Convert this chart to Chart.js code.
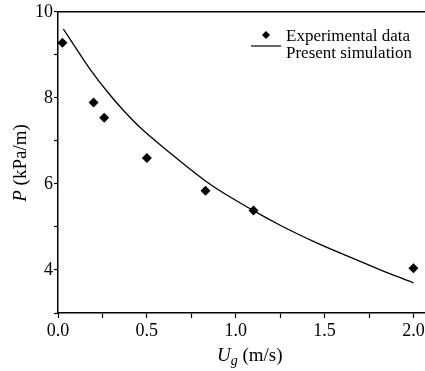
<!DOCTYPE html>
<html>
<head>
<meta charset="utf-8">
<script src="https://cdn.jsdelivr.net/npm/chart.js@4"></script>
<style>
  html, body { margin: 0; padding: 0; background: #fff; overflow: hidden; }
  #wrap { width: 425px; height: 371px; overflow: hidden; }
</style>
</head>
<body>
<div id="wrap"><canvas id="chart" width="430" height="371"></canvas></div>
<script>
// experimental points (Ug in m/s, P in kPa/m)
const expUg = [0.025, 0.2, 0.26, 0.5, 0.83, 1.1, 2.0];
const expP = [9.28, 7.89, 7.54, 6.6, 5.84, 5.38, 4.04];

// simulation curve
const simUg = [0.03, 0.11, 0.185, 0.28, 0.37, 0.47, 0.61, 0.86, 1.1, 1.25, 1.44, 1.63, 1.81, 2.0];
const simP = [9.6, 9.1, 8.64, 8.13, 7.7, 7.28, 6.79, 5.98, 5.38, 5.04, 4.66, 4.32, 4.01, 3.7];

const xTicks = [0, 0.25, 0.5, 0.75, 1.0, 1.25, 1.5, 1.75, 2.0];
const xLabels = [0, 0.5, 1.0, 1.5, 2.0];
const yTicks = [3, 4, 5, 6, 7, 8, 9, 10];
const yLabels = [4, 6, 8, 10];

const serif = "'Liberation Serif', 'Times New Roman', serif";

const toXY = (xs, ys) => xs.map((x, i) => ({ x: x, y: ys[i] }));

// top frame line + legend + axis titles (need italics / subscript)
const extras = {
  id: 'extras',
  afterDraw(chart) {
    const ctx = chart.ctx;
    const a = chart.chartArea;
    ctx.save();
    ctx.strokeStyle = '#000';
    ctx.lineWidth = 1.5;
    ctx.beginPath();
    ctx.moveTo(a.left, a.top);
    ctx.lineTo(a.right + 10, a.top);
    ctx.stroke();

    // legend
    ctx.fillStyle = '#000';
    ctx.beginPath();
    ctx.moveTo(266, 31);
    ctx.lineTo(270, 35);
    ctx.lineTo(266, 39);
    ctx.lineTo(262, 35);
    ctx.closePath();
    ctx.fill();
    ctx.lineWidth = 1.2;
    ctx.beginPath();
    ctx.moveTo(251, 46);
    ctx.lineTo(281, 46);
    ctx.stroke();
    ctx.font = '17px ' + serif;
    ctx.textBaseline = 'alphabetic';
    ctx.textAlign = 'left';
    ctx.fillText('Experimental data', 286, 41);
    ctx.fillText('Present simulation', 286, 58);

    // x title: Ug (m/s)
    ctx.font = 'italic 19px ' + serif;
    let x = 217;
    const base = 361;
    ctx.fillText('U', x, base);
    x += ctx.measureText('U').width;
    ctx.font = 'italic 14px ' + serif;
    ctx.fillText('g', x, base + 4);
    x += ctx.measureText('g').width;
    ctx.font = '19px ' + serif;
    ctx.fillText(' (m/s)', x, base);

    // y title: P (kPa/m)
    ctx.translate(26, 163);
    ctx.rotate(-Math.PI / 2);
    ctx.font = 'italic 19px ' + serif;
    const wP = ctx.measureText('P').width;
    ctx.font = '19px ' + serif;
    const wR = ctx.measureText(' (kPa/m)').width;
    let sx = -(wP + wR) / 2;
    ctx.font = 'italic 19px ' + serif;
    ctx.fillText('P', sx, 0);
    ctx.font = '19px ' + serif;
    ctx.fillText(' (kPa/m)', sx + wP, 0);
    ctx.restore();
  }
};

new Chart(document.getElementById('chart'), {
  type: 'scatter',
  data: {
    datasets: [
      {
        label: 'Experimental data',
        data: toXY(expUg, expP),
        pointStyle: 'rectRot',
        pointRadius: 5,
        backgroundColor: '#000',
        borderColor: '#000',
        borderWidth: 0,
        showLine: false
      },
      {
        label: 'Present simulation',
        data: toXY(simUg, simP),
        showLine: true,
        pointRadius: 0,
        borderColor: '#000',
        borderWidth: 1.3,
        cubicInterpolationMode: 'monotone',
        fill: false
      }
    ]
  },
  options: {
    responsive: false,
    animation: false,
    events: [],
    layout: { padding: { left: 0, top: 10, right: 0, bottom: 0 } },
    plugins: {
      legend: { display: false },
      tooltip: { enabled: false },
      title: { display: false }
    },
    scales: {
      x: {
        type: 'linear',
        min: 0,
        max: 2.065,
        afterFit: s => { s.height = 58; },
        afterBuildTicks: s => { s.ticks = xTicks.map(v => ({ value: v })); },
        grid: { drawOnChartArea: false, drawTicks: true, tickLength: 5, tickColor: '#000', tickWidth: 1.2 },
        border: { display: true, color: '#000', width: 1.5 },
        ticks: {
          color: '#000',
          padding: 2,
          maxRotation: 0,
          autoSkip: false,
          font: { family: serif, size: 18 },
          callback: v => xLabels.includes(v) ? v.toFixed(1) : ''
        }
      },
      y: {
        type: 'linear',
        min: 3,
        max: 10,
        afterFit: s => { s.width = 58; },
        afterBuildTicks: s => { s.ticks = yTicks.map(v => ({ value: v })); },
        grid: { drawOnChartArea: false, drawTicks: true, tickLength: 4, tickColor: '#000', tickWidth: 1.2 },
        border: { display: true, color: '#000', width: 1.5 },
        ticks: {
          color: '#000',
          padding: 1,
          autoSkip: false,
          font: { family: serif, size: 18 },
          callback: v => yLabels.includes(v) ? String(v) : ''
        }
      }
    }
  },
  plugins: [extras]
});
</script>
</body>
</html>
